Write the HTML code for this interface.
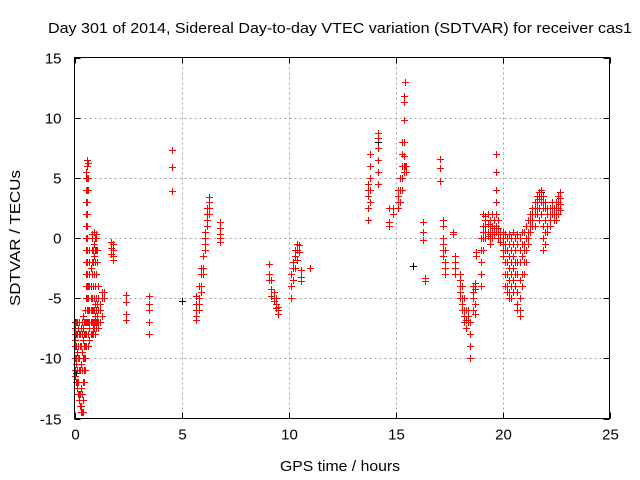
<!DOCTYPE html>
<html><head><meta charset="utf-8"><style>
html,body{margin:0;padding:0;background:#fff;}
svg{display:block;font-family:"Liberation Sans",sans-serif;}
</style></head><body>
<svg id="chart" width="640" height="480" viewBox="0 0 640 480" xmlns="http://www.w3.org/2000/svg">
<rect width="640" height="480" fill="#fff"/>
<text x="340" y="33" font-size="15" text-anchor="middle" textLength="584" lengthAdjust="spacingAndGlyphs">Day 301 of 2014, Sidereal Day-to-day VTEC variation (SDTVAR) for receiver cas1</text>
<g id="grid"></g>
<g id="ticks"></g>
<g id="blackpts"></g>
<g id="redpts"></g>
<rect x="74.5" y="57.5" width="535" height="361" fill="none" stroke="#000" stroke-width="1"/>
<text transform="translate(20,238) rotate(-90)" font-size="15" text-anchor="middle" textLength="136" lengthAdjust="spacingAndGlyphs">SDTVAR / TECUs</text>
<text x="340" y="471" font-size="15" text-anchor="middle" textLength="120" lengthAdjust="spacingAndGlyphs">GPS time / hours</text>
</svg>
<script>
const xTicks = [0,5,10,15,20,25];
const yTicks = [-15,-10,-5,0,5,10,15];
const redColumns = [
[0.0,[-7,-7.5,-8,-8.5,-9,-10,-11,-11.5]],[0.05,[-7,-8,-9,-10,-10.5,-12]],[0.1,[-7,-8,-9.5,-11,-12,-12.5]],
[0.15,[-7.5,-9,-10,-12,-13]],[0.2,[-7,-8,-10,-11,-13,-13.5]],[0.25,[-8,-9,-11,-13,-14]],
[0.3,[-7.5,-9,-10.5,-12.5,-14,-14.5]],[0.35,[-7,-8,-9.5,-11,-13,-14.5]],[0.4,[-6.5,-7.5,-8.5,-10,-12,-13.5,-14.5]],
[0.45,[-7,-8,-9,-10,-11,-12]],[0.5,[-6,-7,-8,-9,-10,-11]],
[0.55,[-5,-4,-3,-2,-1,0,1,2,3,4,5,5.5,-7,-8,-9]],[0.6,[-7,-6,-5,-4,-3,-2,-1,0,1,2,3,4,5,6,6.5]],
[0.65,[-9,-8,-7,-6,-5,-4,6.2,5,4]],[0.7,[-8.5,-7.5,-7,-6,-4,-3,-2,-1]],[0.75,[-8,-7,-6,-5,-4,-2.5]],
[0.8,[-8,-7,-6,-5,-3,-2,-1,0,0.3]],[0.85,[-8,-7.5,-7,-6,-4,-2,-1]],[0.9,[-7.5,-7,-6,-5,-3,-1.5,-0.5,0.5]],
[0.95,[-8,-7,-6.5,-5.5,-4,-2,-1,0]],[1.0,[-7.5,-7,-6,-5,-3,-1,0,0.3]],[1.05,[-7,-6.5,-5.5,-2,-1]],
[1.1,[-7.5,-7,-6,-5,-4]],[1.2,[-7,-6,-5.5]],[1.3,[-6.5,-5,-4.5]],[1.4,[-5,-4.5]],
[1.7,[-0.3,-0.8,-1.3]],[1.8,[-0.5,-1,-1.5,-1.8]],[2.4,[-4.7,-5.3,-6.3,-6.8]],[3.5,[-4.8,-5.5,-6,-7,-8]],
[4.55,[7.3,5.9,3.9]],[5.7,[-4.8,-5.5,-6,-6.5,-6.8]],[5.8,[-4,-5,-5.5,-6]],[5.9,[-2.5,-3,-4,-4.5]],
[6.0,[-1.5,-2.5,-3]],[6.1,[-0.5,0,0.5,-1]],[6.2,[1,1.5,2,2.5]],[6.3,[2.5,3,3.4,2]],[6.8,[1.3,0.8,0.3,0,-0.3]],
[9.1,[-2.2,-3,-3.5]],[9.2,[-3.5,-4.2,-4.8]],[9.3,[-4.5,-5,-5.2]],[9.4,[-5,-5.5,-5.8]],[9.5,[-5.7,-6,-6.3]],
[10.1,[-3,-4,-5]],[10.2,[-2,-2.5,-3.5]],[10.3,[-1,-1.5,-2.5]],[10.4,[-0.5,-1,-1.8]],[10.5,[-0.6,-1.2]],
[10.6,[-2.7,-3.2,-3.6]],[11.0,[-2.5]],
[13.7,[1.5,2.5,3.5,4,4.5]],[13.8,[3,4,5,6,7]],[14.2,[8.7,8.3,7.5,6.5,5.5,4.5]],[14.7,[1,1.3,2.5]],[14.9,[2,2.5]],
[15.1,[2.5,3,3.5,4]],[15.2,[3,4,5]],[15.3,[4,5,6,7,8]],[15.4,[5.5,6,6.8,8,9.8,11.3,11.8]],[15.45,[6,13]],[15.5,[5.5,6]],
[16.3,[1.3,0.5,-0.2]],[16.4,[-3.3,-3.6]],[17.1,[6.6,5.8,4.7]],[17.2,[1.5,1,0,-0.5,-1,-1.5]],[17.3,[-1,-2,-2.5,-3]],
[17.7,[0.5,0.3]],[17.8,[-1.5,-2,-2.5,-3]],[18.0,[-3,-3.5,-4,-4.5,-5]],[18.1,[-4,-5,-5.5,-6]],[18.2,[-5,-6,-6.5,-7]],
[18.3,[-6,-6.8,-7.5]],[18.4,[-6,-6.5,-7]],[18.5,[-7,-8,-9,-10]],[18.6,[-4,-4.5,-5,-6]],[18.7,[-3.7,-4.2,-5.5,-6.3]],
[18.75,[-1.2,-1.5]],[19.0,[0,-1,-2,-3,-4]],[19.1,[2,1,0.5,0,-1]],[19.2,[1.8,1.5,1,0.5,0]],[19.3,[2,1.2,0.5,0.2]],
[19.4,[1.5,1,0.5,0.3,0,-0.5]],[19.5,[2,1,0.5,0]],[19.6,[1.5,0.8,0.5,0.3]],[19.7,[7,5.5,4,3,2,1,0.5]],
[19.8,[1.5,0.8,0.3,0]],[19.9,[0.5,0.3,0,-0.3]],[20.0,[0.5,0,-0.5,-1,-1.5]],[20.1,[0.3,-0.5,-1,-2,-3,-4]],
[20.2,[0,-1,-2,-3,-4,-4.5]],[20.3,[0.3,-0.5,-1.5,-2.5,-3.5,-4.5,-5]],[20.4,[0,-1,-2,-3,-4,-5]],
[20.5,[0.5,-0.5,-1.5,-2.5,-3.5,-4.5]],[20.6,[0,-1,-2,-3,-4]],[20.7,[0.3,-0.5,-2,-3,-4.5,-5.5,-6]],
[20.8,[0,-1,-2,-3.5,-5,-6,-6.5]],[20.9,[0.5,-0.5,-1.5,-3,-4]],[21.0,[0.5,-0.5,-1,-2,-3]],[21.1,[1,0,-1,-2]],
[21.2,[1.5,0.5,0,-0.5]],[21.3,[2,1.5,1,0.5]],[21.4,[2.5,2,1.5,1]],[21.5,[3,2.5,2,1]],[21.6,[3.5,3,2.5,2]],
[21.7,[3.8,3.2,2.5,1.5]],[21.8,[4,3.5,3,2]],[21.9,[3.5,3,2.5,1,0,-1]],[22.0,[3,2.5,1.5,0.5,-0.5]],
[22.1,[2.5,2,1,0.5]],[22.2,[2.5,2,1.5,1]],[22.3,[3,2.5,2]],[22.4,[2.5,2,1.5]],[22.5,[3,2.5,2,1.5]],
[22.6,[3.5,3,2.5,2]],[22.7,[3.8,3.3,2.8,2.3]]
];
const blackColumns = [
[0.05,[-11.2,-9]],[0.6,[6,5,4]],[5.0,[-5.2]],[11.0,[-2.5]],[14.2,[8]],[15.8,[-2.3]],
[18.5,[-10]],[20.2,[-1]],[21.8,[3.8]]
];
const NS='http://www.w3.org/2000/svg';
const L=74.5,R=609.5,T=57.5,B=418.5;
function xs(v){return L+(v-0)/25*(R-L);}
function ys(v){return B-(v+15)/30*(B-T);}
function mk(tag,attrs,parent){const e=document.createElementNS(NS,tag);for(const k in attrs)e.setAttribute(k,attrs[k]);parent.appendChild(e);return e;}
const grid=document.getElementById('grid'),ticks=document.getElementById('ticks');
xTicks.forEach(t=>{
  const x=Math.round(xs(t))+0.5;
  if(t>0&&t<25){const g=mk('line',{x1:x,x2:x,y1:T,y2:B,stroke:'#a0a0a0','stroke-dasharray':'2,3'},grid);
  
  }
  mk('line',{x1:x,x2:x,y1:B,y2:B-6,stroke:'#000'},ticks);
  mk('line',{x1:x,x2:x,y1:T,y2:T+6,stroke:'#000'},ticks);
  const tx=mk('text',{x:x,y:B+21,'font-size':'15','text-anchor':'middle'},ticks);
  tx.textContent=t;
  
  
});
yTicks.forEach(t=>{
  const y=Math.round(ys(t))+0.5;
  if(t>-15&&t<15){const g=mk('line',{x1:L,x2:R,y1:y,y2:y,stroke:'#a0a0a0','stroke-dasharray':'2,3'},grid);
  
  }
  mk('line',{x1:L,x2:L+6,y1:y,y2:y,stroke:'#000'},ticks);
  mk('line',{x1:R,x2:R-6,y1:y,y2:y,stroke:'#000'},ticks);
  const tx=mk('text',{x:L-13,y:y+5,'font-size':'15','text-anchor':'end'},ticks);
  tx.textContent=t;
  
  
});
function plot(cols,gid,color,name){
  const g=document.getElementById(gid);let d='';
  cols.forEach(c=>{c[1].forEach(v=>{
    const x=Math.round(xs(c[0]))+0.5,y=Math.round(ys(v))+0.5;
    d+='M'+(x-3.5)+' '+y+'h7M'+x+' '+(y-3.5)+'v7';
  });});
  const p=mk('path',{d:d,stroke:color,'stroke-width':'1',fill:'none'},g);
  
  
}
plot(blackColumns,'blackpts','#000','black-points');
plot(redColumns,'redpts','#ff0000','red-points');
</script>
</body></html>
